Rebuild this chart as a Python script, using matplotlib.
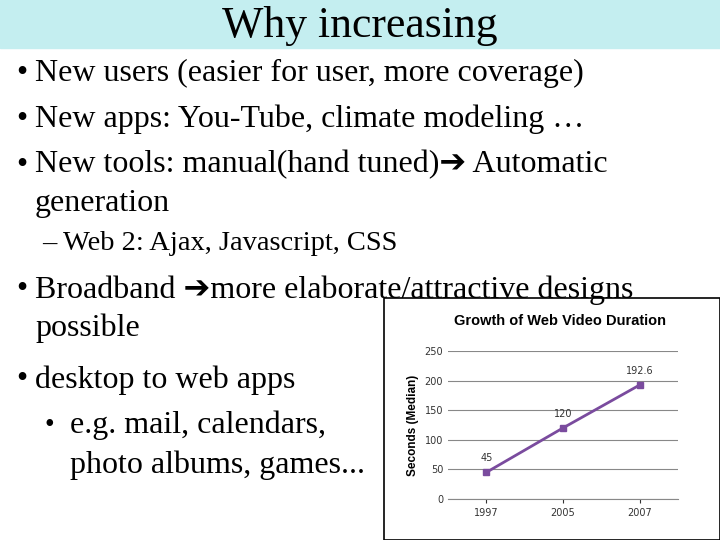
import matplotlib.pyplot as plt
from matplotlib.patches import Rectangle

years = ['1997', '2005', '2007']
seconds = [45, 120, 192.6]
point_labels = ['45', '120', '192.6']
y_ticks = [0, 50, 100, 150, 200, 250]

fig = plt.figure(figsize=(7.2, 5.4), dpi=100)
W, H = 720, 540

def fx(x): return x / W
def fy(y): return 1 - y / H

# title band
fig.patches.append(Rectangle((0, fy(48)), 1, 48 / H, transform=fig.transFigure,
                             color='#c4eef0', zorder=0))
fig.text(0.5, fy(26), 'Why increasing', ha='center', va='center',
         fontsize=31.5, family='Liberation Serif')

serif = ['Liberation Serif', 'DejaVu Sans']
lines = [
    (16, 35, 73, '•', 'New users (easier for user, more coverage)', 23),
    (16, 35, 119, '•', 'New apps: You-Tube, climate modeling …', 23),
    (16, 35, 165, '•', 'New tools: manual(hand tuned)➔ Automatic', 23),
    (None, 35, 204, '', 'generation', 23),
    (None, 42, 244, '', '– Web 2: Ajax, Javascript, CSS', 20.5),
    (16, 35, 290, '•', 'Broadband ➔more elaborate/attractive designs', 23),
    (None, 35, 328, '', 'possible', 23),
    (16, 35, 380, '•', 'desktop to web apps', 23),
    (None, 45, 425, '•', '', 20),
    (None, 70, 425, '', 'e.g. mail, calendars,', 23),
    (None, 70, 465, '', 'photo albums, games...', 23),
]
for bx, tx, y, b, t, fs in lines:
    if bx is not None:
        fig.text(fx(bx), fy(y), b, va='center', fontsize=fs, family=serif)
    elif b:
        fig.text(fx(tx), fy(y), b, va='center', fontsize=fs, family=serif)
    if t:
        fig.text(fx(tx), fy(y), t, va='center', fontsize=fs, family=serif)

# embedded chart box
fig.patches.append(Rectangle((fx(384), 0), 1 - fx(384), fy(298), transform=fig.transFigure,
                             facecolor='white', edgecolor='black', lw=1.2, zorder=2))

ax = fig.add_axes([fx(448), fy(499), fx(230), 148 / H], zorder=3)
ax.set_facecolor('none')
x = range(len(years))
ax.plot(x, seconds, color='#7a4b9e', lw=2, marker='s', ms=5)
for xi, v, lab in zip(x, seconds, point_labels):
    ax.annotate(lab, (xi, v), xytext=(0, 8), textcoords='offset points',
                ha='center', fontsize=7, color='#333333')
ax.set_xlim(-0.5, 2.5)
ax.set_ylim(0, 250)
ax.set_xticks(list(x))
ax.set_xticklabels(years)
ax.set_yticks(y_ticks)
ax.tick_params(labelsize=7, colors='#333333', length=3)
ax.grid(axis='y', color='#888888', lw=0.8)
for s in ['top', 'right', 'left']:
    ax.spines[s].set_visible(False)
ax.spines['bottom'].set_color('#888888')
ax.tick_params(axis='y', length=0)
ax.set_ylabel('Seconds (Median)', fontsize=8.5, fontweight='bold', family='Liberation Sans')
fig.text(fx(560), fy(321), 'Growth of Web Video Duration', ha='center', va='center',
         fontsize=10.5, fontweight='bold', family='Liberation Sans', zorder=4)

fig.savefig('out.png', dpi=100)
